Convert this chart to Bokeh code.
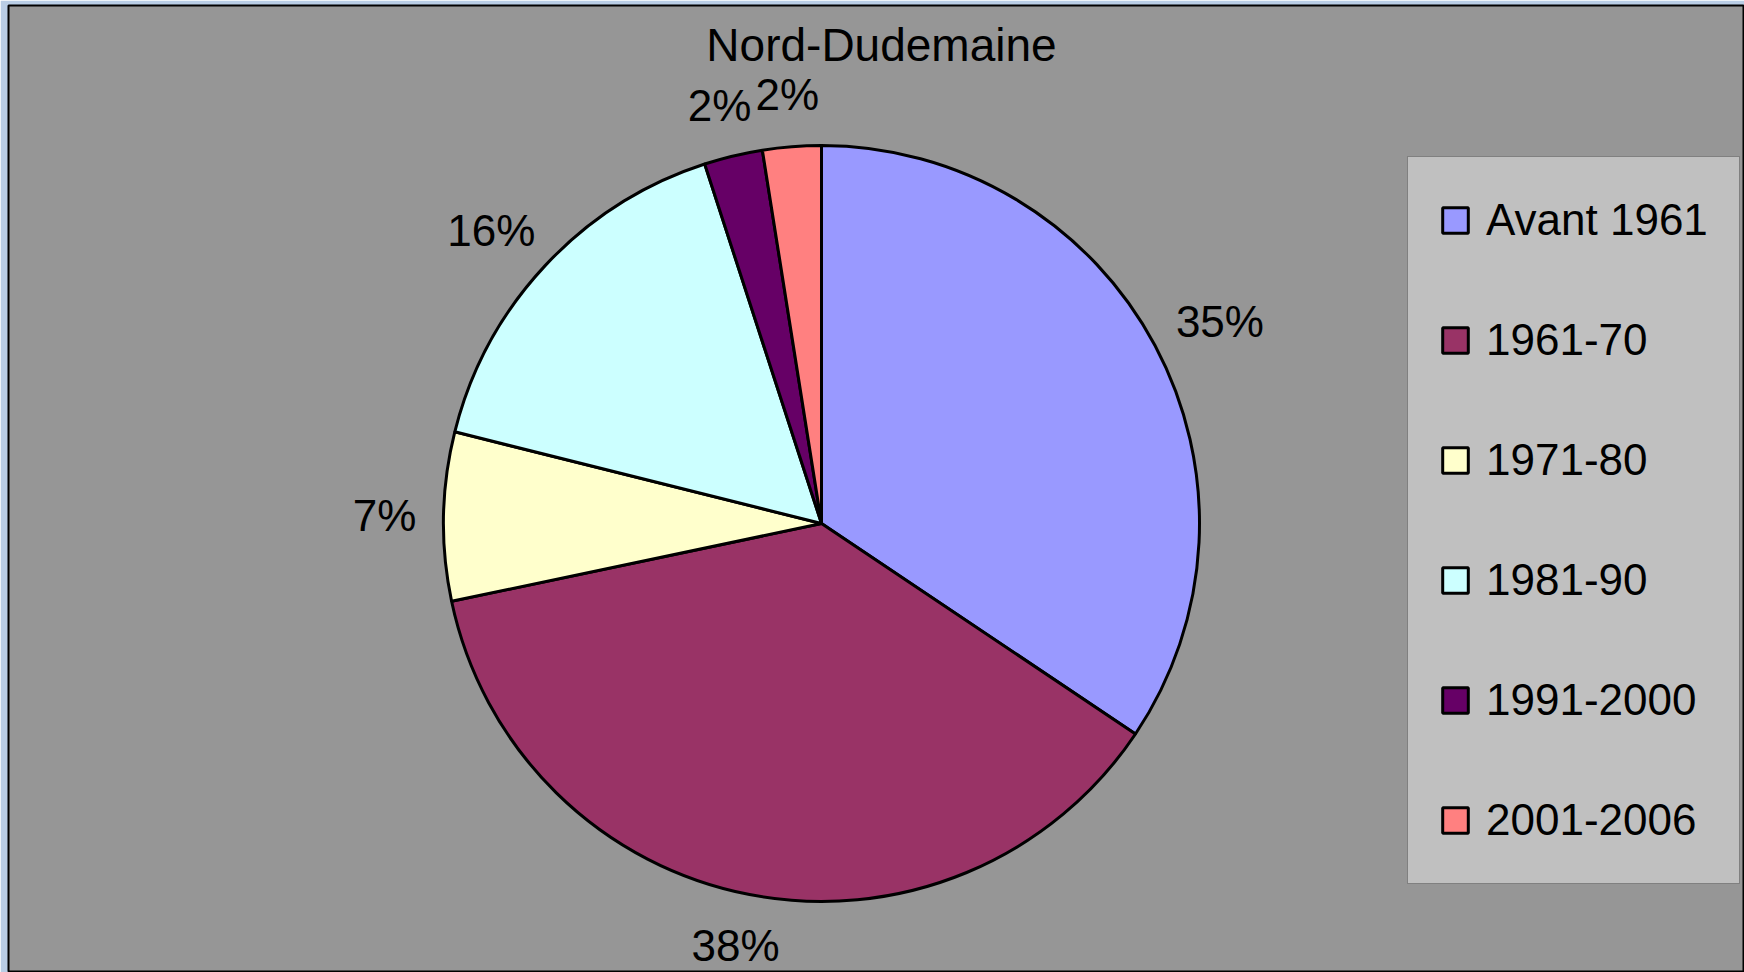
import numpy as np
from bokeh.plotting import figure
from bokeh.models import ColumnDataSource, Legend, LegendItem, Range1d, Label
from bokeh.core.properties import value
from bokeh.embed import file_html
from bokeh.resources import INLINE

# ---- data ----
title_text = "Nord-Dudemaine"
periods = ["Avant 1961", "1961-70", "1971-80", "1981-90", "1991-2000", "2001-2006"]
shares = [34.4, 37.3, 7.2, 16.1, 2.5, 2.5]
pct_labels = ["35%", "38%", "7%", "16%", "2%", "2%"]
colors = ["#9999FF", "#993366", "#FFFFCC", "#CCFFFF", "#660066", "#FF8080"]

# ---- layout ----
W, H = 1744, 972
BL, BT = 8, 5                      # blue page strip left / top
FW, FH = W - BL, H - BT            # frame size (1 data unit = 1 px)
cx, cy, R = 813, 449, 378
FONT = "Liberation Sans"
FS = 44

frac = np.array(shares) / sum(shares)
cum = np.concatenate([[0.0], np.cumsum(frac)])
start = np.pi / 2 - 2 * np.pi * cum[:-1]
end = np.pi / 2 - 2 * np.pi * cum[1:]
mid = (start + end) / 2
ux, uy = np.cos(mid), np.sin(mid)
gap, half_h = 30, 22
half_w = np.array([0.33 * FS * len(s) for s in pct_labels])
lx = cx + (R + gap) * ux + half_w * ux
ly = cy + (R + gap) * uy + half_h * uy

src = ColumnDataSource(dict(period=periods, share=shares, pct=pct_labels,
                            color=colors, start=start, end=end, lx=lx, ly=ly))

p = figure(width=W, height=H, x_range=Range1d(0, FW), y_range=Range1d(0, FH),
           output_backend="svg", toolbar_location=None,
           min_border_left=BL, min_border_top=BT, min_border_right=0, min_border_bottom=0,
           x_axis_type=None, y_axis_type=None,
           background_fill_color="#969696", border_fill_color="#B9CDE5",
           outline_line_color="black", outline_line_width=2)
p.grid.visible = False

r = p.wedge(x=cx, y=cy, radius=R, start_angle="start", end_angle="end",
            direction="clock", fill_color="color", line_color="black",
            line_width=3, source=src)

p.text(x="lx", y="ly", text="pct", text_font=value(FONT), text_font_size=f"{FS}px",
       text_align="center", text_baseline="middle", text_color="black", source=src)

p.add_layout(Label(x=873, y=928, text=title_text, text_font=FONT,
                   text_font_size="46px", text_align="center",
                   text_baseline="middle", text_color="black"))

legend = Legend(items=[LegendItem(label=periods[i], renderers=[r], index=i)
                       for i in range(len(periods))],
                location=(1399, 88), orientation="vertical",
                background_fill_color="#C0C0C0", background_fill_alpha=1.0,
                border_line_color="#404040", border_line_width=1.5,
                label_text_font=FONT, label_text_font_size=f"{FS}px",
                label_text_color="black",
                glyph_width=32, glyph_height=32, label_standoff=15,
                label_height=64, spacing=56, padding=31, margin=0)
p.add_layout(legend)

open("out.html", "w").write(file_html(p, INLINE))
